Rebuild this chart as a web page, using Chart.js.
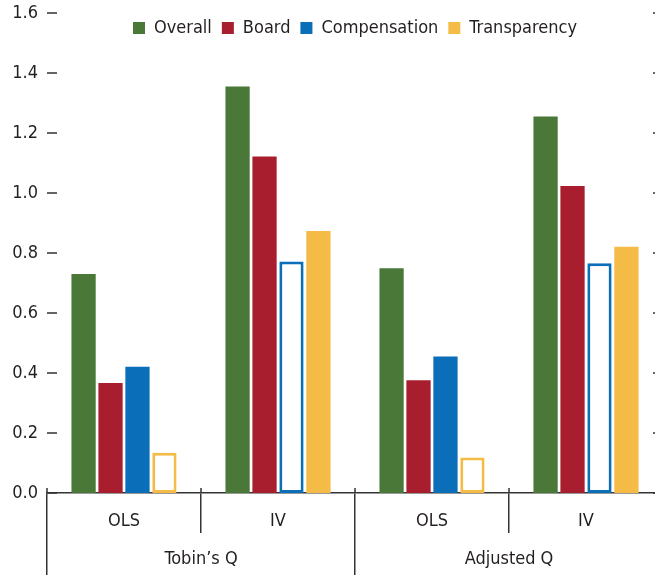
<!DOCTYPE html>
<html>
<head>
<meta charset="utf-8">
<script src="https://cdn.jsdelivr.net/npm/chart.js@4.4.1/dist/chart.umd.min.js"></script>
<style>
  html, body { margin: 0; padding: 0; overflow: hidden; background: #fff; }
  #wrap { width: 663px; height: 575px; }
</style>
</head>
<body>
<div id="wrap"><canvas id="chart"></canvas></div>
<script>
const categories = ['OLS', 'IV', 'OLS', 'IV'];
const groups = ['Tobin’s Q', 'Adjusted Q'];
const seriesNames = ['Overall', 'Board', 'Compensation', 'Transparency'];
const overall = [0.73, 1.355, 0.749, 1.255];
const board = [0.367, 1.122, 0.376, 1.023];
const compensation = [0.421, 0.772, 0.455, 0.766];
const transparency = [0.134, 0.873, 0.118, 0.821];
// solid = significant, hollow = not
const overallSig = [true, true, true, true];
const boardSig = [true, true, true, true];
const compensationSig = [true, false, true, false];
const transparencySig = [false, true, false, true];

const colors = ['#4a7838', '#a91e2e', '#0a6eb9', '#f5bb47'];
const font = "'Liberation Sans Narrow', 'DejaVu Sans Condensed', sans-serif";
const fontSize = 18;
const legendPad = 10;
const ink = '#231f20';

const makeSet = (i, values, sig) => ({
    label: seriesNames[i],
    data: values,
    backgroundColor: sig.map(s => s ? colors[i] : '#ffffff'),
    borderColor: colors[i],
    borderWidth: sig.map(s => s ? 0 : 3),
    borderSkipped: false,
    categoryPercentage: 0.7,
    barPercentage: 0.9
});

const tickDashes = {
    id: 'tickDashes',
    afterLayout(chart) {
        // legend sits inside the plot, near the top
        const lg = chart.legend;
        const h = lg.height;
        lg.top = 28 - legendPad - fontSize / 2;
        lg.bottom = lg.top + h;
    },
    afterDraw(chart) {
        const {ctx, chartArea, scales: {x, y}} = chart;
        ctx.save();
        ctx.strokeStyle = '#333';
        ctx.lineWidth = 1.5;
        ctx.beginPath();
        y.ticks.forEach(t => {
            const py = y.getPixelForValue(t.value);
            ctx.moveTo(chartArea.left, py);
            ctx.lineTo(chartArea.left + 10, py);
            ctx.moveTo(chartArea.right - 10, py);
            ctx.lineTo(chartArea.right, py);
        });
        for (let i = 0; i <= categories.length; i++) {
            const px = x.getPixelForValue(i - 0.5);
            ctx.moveTo(px, chartArea.bottom - 5);
            ctx.lineTo(px, chartArea.bottom);
        }
        ctx.stroke();
        ctx.restore();
    }
};

const ctx = document.getElementById('chart').getContext('2d');
new Chart(ctx, {
    type: 'bar',
    data: {
        labels: categories,
        datasets: [
            makeSet(0, overall, overallSig),
            makeSet(1, board, boardSig),
            makeSet(2, compensation, compensationSig),
            makeSet(3, transparency, transparencySig)
        ]
    },
    options: {
        responsive: true,
        maintainAspectRatio: false,
        animation: false,
        // legend gets no room of its own, the y labels set the top gap
        layout: { padding: { top: -80, right: 0, bottom: 0, left: 0 } },
        plugins: {
            tooltip: { enabled: false },
            legend: {
                position: 'top',
                align: 'center',
                fullSize: false,
                labels: {
                    boxWidth: 12,
                    boxHeight: 12,
                    padding: legendPad,
                    color: ink,
                    font: { family: font, size: fontSize },
                    generateLabels(chart) {
                        return seriesNames.map((name, i) => ({
                            text: name,
                            fillStyle: colors[i],
                            strokeStyle: colors[i],
                            lineWidth: 0,
                            fontColor: ink,
                            datasetIndex: i,
                            hidden: false
                        }));
                    }
                }
            }
        },
        scales: {
            x: {
                type: 'category',
                offset: true,
                grid: { display: true, drawOnChartArea: false, offset: true, tickLength: 40, color: '#333', lineWidth: 1.5 },
                border: { display: true, color: '#333', width: 1.5 },
                ticks: { color: ink, font: { family: font, size: fontSize }, padding: -22, maxRotation: 0 },
                afterFit: s => { s.height = 40; }
            },
            x2: {
                type: 'category',
                labels: groups,
                position: 'bottom',
                weight: 1,
                offset: true,
                grid: { display: true, drawOnChartArea: false, offset: true, tickLength: 42, color: '#333', lineWidth: 1.5 },
                border: { display: false },
                ticks: { color: ink, font: { family: font, size: fontSize }, padding: -26, maxRotation: 0 },
                afterFit: s => { s.height = 42; }
            },
            y: {
                min: 0,
                max: 1.6,
                grid: { display: false, drawTicks: true, tickLength: 6.8 },
                border: { display: false },
                ticks: {
                    stepSize: 0.2,
                    padding: 2.2,
                    color: ink,
                    font: { family: font, size: fontSize },
                    callback: v => v.toFixed(1)
                },
                afterFit: s => { s.width = 47; }
            }
        }
    },
    plugins: [tickDashes]
});
</script>
</body>
</html>
